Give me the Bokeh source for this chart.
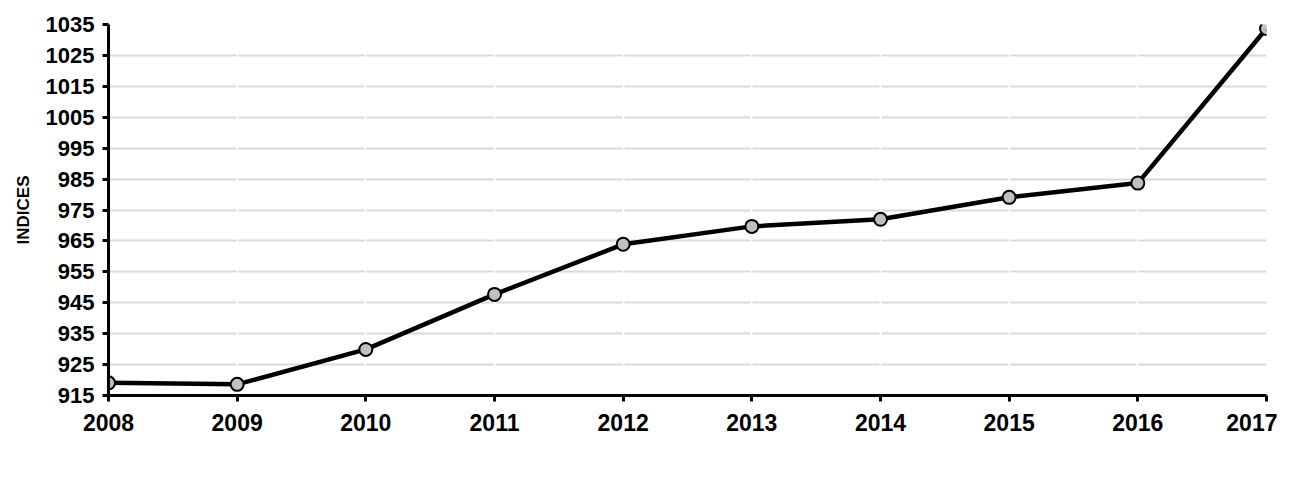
from bokeh.plotting import figure
from bokeh.models import FixedTicker, Range1d, Legend, LegendItem
from bokeh.embed import file_html
from bokeh.resources import INLINE

years = [2008, 2009, 2010, 2011, 2012, 2013, 2014, 2015, 2016, 2017]
values = [919.1, 918.6, 929.9, 947.7, 963.9, 969.7, 972.0, 979.1, 983.7, 1033.7]
y_ticks = [915, 925, 935, 945, 955, 965, 975, 985, 995, 1005, 1015, 1025, 1035]
series_name = "INDUSTRIES DU BOIS ET PAPIERS"
y_title = "INDICES"

FONT = "Liberation Sans"

p = figure(width=1277, height=472, output_backend="svg", toolbar_location=None,
           x_range=Range1d(2008, 2017), y_range=Range1d(915, 1035),
           min_border_left=108, min_border_right=11, min_border_top=24, min_border_bottom=77)
p.outline_line_color = None
p.background_fill_color = "white"
p.border_fill_color = "white"

# grids
p.ygrid.ticker = FixedTicker(ticks=y_ticks)
p.ygrid.grid_line_color = "#d9d9d9"
p.ygrid.grid_line_width = 2
p.ygrid.level = "image"
p.xgrid.ticker = FixedTicker(ticks=years)
p.xgrid.grid_line_color = "white"
p.xgrid.grid_line_width = 2
p.xgrid.level = "underlay"

for ax in (p.xaxis[0], p.yaxis[0]):
    ax.axis_line_color = "black"
    ax.axis_line_width = 3
    ax.major_tick_line_color = "black"
    ax.major_tick_line_width = 3
    ax.major_tick_out = 6
    ax.major_tick_in = 0
    ax.minor_tick_line_color = None
    ax.major_label_text_font = FONT
    ax.major_label_text_font_style = "bold"
    ax.major_label_text_color = "black"

p.yaxis[0].ticker = FixedTicker(ticks=y_ticks)
p.yaxis[0].major_label_text_font_size = "22px"
p.yaxis[0].major_label_standoff = 8
p.yaxis[0].axis_label = y_title
p.yaxis[0].axis_label_text_font = FONT
p.yaxis[0].axis_label_text_font_style = "bold"
p.yaxis[0].axis_label_text_font_size = "17px"
p.yaxis[0].axis_label_text_color = "black"
p.yaxis[0].axis_label_standoff = 10

p.xaxis[0].ticker = FixedTicker(ticks=years)
p.xaxis[0].major_label_text_font_size = "23px"
p.xaxis[0].major_label_standoff = 12

line = p.line(years, values, line_color="black", line_width=4.5)
pts = p.scatter(years, values, size=13, fill_color="#c0c0c0", line_color="black", line_width=2)

legend = Legend(items=[LegendItem(label=series_name, renderers=[line, pts])],
                location=(285, -88), orientation="horizontal",
                label_text_font=FONT, label_text_font_style="bold", label_text_font_size="20px",
                border_line_color="black", border_line_width=2,
                glyph_width=55, glyph_height=20, label_standoff=5,
                padding=8, margin=0, spacing=0, background_fill_alpha=1)
p.add_layout(legend, "center")

open("out.html", "w").write(file_html(p, INLINE))
